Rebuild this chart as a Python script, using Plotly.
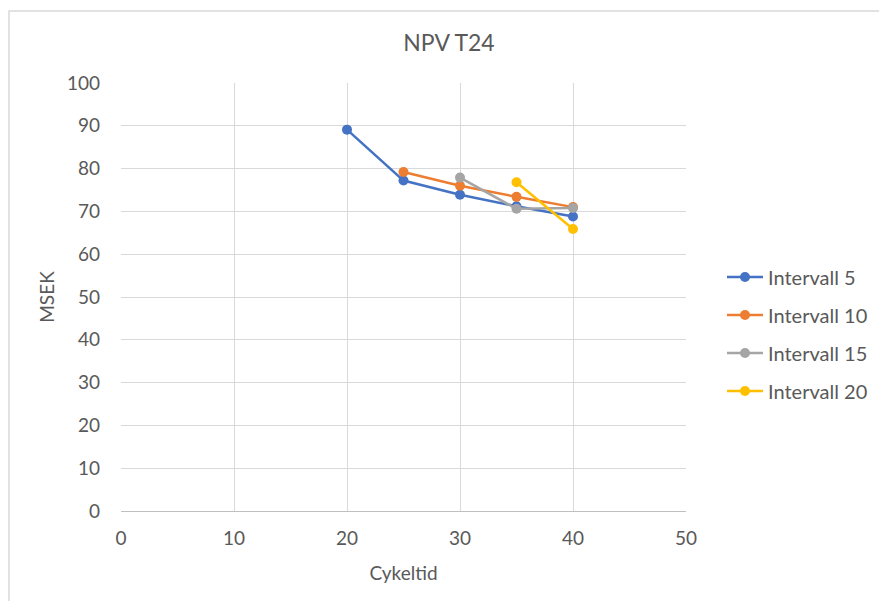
import plotly.graph_objects as go

# Cycle time (x) and NPV in MSEK per interval series
cykeltid_5 = [20, 25, 30, 35, 40]
npv_5 = [89.1, 77.2, 73.9, 71.2, 68.8]

cykeltid_10 = [25, 30, 35, 40]
npv_10 = [79.2, 76.0, 73.4, 71.0]

cykeltid_15 = [30, 35, 40]
npv_15 = [77.9, 70.6, 70.8]

cykeltid_20 = [35, 40]
npv_20 = [76.8, 65.9]

series_names = ["Intervall 5", "Intervall 10", "Intervall 15", "Intervall 20"]
series_colors = ["#4472C4", "#ED7D31", "#A5A5A5", "#FFC000"]

x_ticks = [0, 10, 20, 30, 40, 50]
y_ticks = [0, 10, 20, 30, 40, 50, 60, 70, 80, 90, 100]

FONT = "Lato"
TEXT = "#595959"
GRID = "#D9D9D9"

W, H = 879, 601
L, R, T, B = 121, 686, 83, 511  # plot-area pixel bounds


def px_x(p):
    return (p - L) / (R - L)


def px_y(p):
    return (B - p) / (B - T)


fig = go.Figure()
for i, (xs, ys) in enumerate([(cykeltid_5, npv_5), (cykeltid_10, npv_10),
                              (cykeltid_15, npv_15), (cykeltid_20, npv_20)]):
    fig.add_trace(go.Scatter(
        x=xs, y=ys, mode="lines+markers", name=series_names[i],
        legendgroup=f"g{i}",
        line=dict(color=series_colors[i], width=2.5),
        marker=dict(color=series_colors[i], size=10),
    ))

fig.update_layout(
    width=W, height=H,
    margin=dict(l=L, r=W - R, t=T, b=H - B, autoexpand=False),
    paper_bgcolor="white", plot_bgcolor="white",
    font=dict(family=FONT, size=19, color=TEXT),
    title=dict(text="NPV T24", x=449 / W, xref="container", xanchor="center",
               y=1 - 43 / H, yref="container", yanchor="middle",
               font=dict(family=FONT, size=23, color=TEXT)),
    xaxis=dict(range=[0, 50], tickvals=x_ticks, showgrid=True, gridcolor=GRID,
               gridwidth=1.2, zeroline=False, showline=True, linecolor="#BFBFBF",
               linewidth=1.2, ticks="", ticklen=0, ticklabelstandoff=10,
               title=dict(text="Cykeltid", standoff=18, font=dict(size=19))),
    yaxis=dict(range=[0, 100], tickvals=y_ticks, showgrid=True, gridcolor=GRID,
               gridwidth=1.2, zeroline=False, showline=False, ticks="",
               ticklabelstandoff=20,
               title=dict(text="MSEK", standoff=7, font=dict(size=19))),
    legend=dict(x=px_x(722), xanchor="left", y=px_y(334), yanchor="middle",
                font=dict(family=FONT, size=20, color=TEXT),
                tracegroupgap=9, itemwidth=36, bgcolor="rgba(0,0,0,0)"),
    shapes=[dict(type="rect", xref="paper", yref="paper",
                 x0=px_x(9), x1=px_x(895), y0=px_y(11), y1=px_y(620),
                 line=dict(color=GRID, width=1.5), layer="below")],
    showlegend=True,
)

fig.write_html("out.html")
